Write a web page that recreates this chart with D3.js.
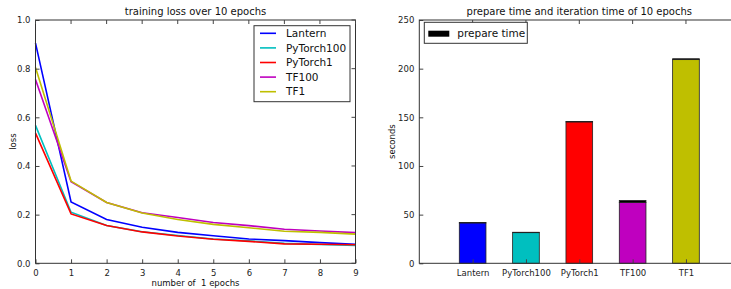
<!DOCTYPE html>
<html>
<head>
<meta charset="utf-8">
<script src="https://cdn.jsdelivr.net/npm/d3@7"></script>
<style>
  body { margin: 0; background: #fff; }
  svg { display: block; font-family: "DejaVu Sans", sans-serif; }
</style>
</head>
<body>
<svg id="chart" width="731" height="289"></svg>
<script>
// loss per epoch
let epochs = [0, 1, 2, 3, 4, 5, 6, 7, 8, 9];
let lossLantern    = [0.905, 0.252, 0.180, 0.148, 0.127, 0.113, 0.100, 0.093, 0.085, 0.078];
let lossPyTorch100 = [0.567, 0.210, 0.155, 0.130, 0.114, 0.100, 0.092, 0.082, 0.077, 0.073];
let lossPyTorch1   = [0.535, 0.203, 0.155, 0.129, 0.112, 0.099, 0.090, 0.080, 0.078, 0.076];
let lossTF100      = [0.755, 0.335, 0.250, 0.208, 0.188, 0.168, 0.155, 0.140, 0.133, 0.126];
let lossTF1        = [0.805, 0.338, 0.250, 0.207, 0.180, 0.160, 0.146, 0.132, 0.127, 0.120];
let lossTicks = [0, 0.2, 0.4, 0.6, 0.8, 1.0];

// bar chart
let frameworks = ["Lantern", "PyTorch100", "PyTorch1", "TF100", "TF1"];
let iterationTime = [41.5, 31.5, 145.3, 62.5, 209.3];
let prepareTime   = [0.4, 0.4, 0.5, 2.0, 0.9];
let secondTicks = [0, 50, 100, 150, 200, 250];

let colors = ["#0000ff", "#00bfbf", "#ff0000", "#bf00bf", "#bfbf00"];

let svg = d3.select("#chart");

//left chart
let lLeft = 35.5, lTop = 20, lW = 320, lH = 243.3;
let left = svg.append("g").attr("transform", `translate(${lLeft},${lTop})`);

let xLoss = d3.scaleLinear().domain([0, 9]).range([0, lW]);
let yLoss = d3.scaleLinear().domain([0, 1]).range([lH, 0]);

let lossSeries = [
    {name: "Lantern", values: lossLantern},
    {name: "PyTorch100", values: lossPyTorch100},
    {name: "PyTorch1", values: lossPyTorch1},
    {name: "TF100", values: lossTF100},
    {name: "TF1", values: lossTF1}
];

let line = d3.line()
    .x((d, i) => xLoss(epochs[i]))
    .y(d => yLoss(d));

left.selectAll("path.loss")
    .data(lossSeries)
    .enter()
    .append("path")
    .attr("class", "loss")
    .attr("d", d => line(d.values))
    .attr("fill", "none")
    .attr("stroke", (d, i) => colors[i])
    .attr("stroke-width", 1.6);

// axes, ticks inward on all sides
function frame(g, w, h, xAx, yAx) {
    g.append("g").attr("transform", `translate(0,${h})`).call(xAx.tickSizeInner(-4).tickSizeOuter(0).tickPadding(7));
    g.append("g").call(yAx.tickSizeInner(-4).tickSizeOuter(0).tickPadding(5));
    g.selectAll(".domain").remove();
    g.selectAll(".tick line").attr("stroke", "#444");
    g.selectAll(".tick text").attr("font-size", "8.5px").attr("fill", "#222").attr("font-family", "DejaVu Sans");
    g.append("rect").attr("width", w).attr("height", h)
        .attr("fill", "none").attr("stroke", "#333").attr("stroke-width", 1);
}

frame(left, lW, lH,
    d3.axisBottom(xLoss).tickValues(epochs).tickFormat(d3.format("d")),
    d3.axisLeft(yLoss).tickValues(lossTicks).tickFormat(d3.format(".1f")));

// top / right tick marks
left.selectAll("line.ttop").data(epochs).enter().append("line")
    .attr("x1", d => xLoss(d)).attr("x2", d => xLoss(d)).attr("y1", 0).attr("y2", 4).attr("stroke", "#444");
left.selectAll("line.tright").data(lossTicks).enter().append("line")
    .attr("x1", lW).attr("x2", lW - 4).attr("y1", d => yLoss(d)).attr("y2", d => yLoss(d)).attr("stroke", "#444");

left.append("text").attr("x", lW / 2).attr("y", -5).attr("text-anchor", "middle")
    .attr("font-size", "10px").attr("fill", "#111").text("training loss over 10 epochs");
left.append("text").attr("x", lW / 2).attr("y", lH + 23).attr("text-anchor", "middle")
    .attr("font-size", "8.5px").attr("fill", "#111").attr("xml:space", "preserve").text("number of  1 epochs");
left.append("text").attr("transform", `translate(-20,${lH / 2}) rotate(-90)`).attr("text-anchor", "middle")
    .attr("font-size", "8.5px").attr("fill", "#111").text("loss");

// legend
let lg = left.append("g").attr("transform", `translate(${254 - lLeft},${25.7 - lTop})`);
lg.append("rect").attr("width", 96).attr("height", 76)
    .attr("fill", "#fff").attr("stroke", "#333").attr("stroke-width", 1);
lossSeries.forEach(function(s, i) {
    let yy = 7.6 + i * 14.6;
    lg.append("line").attr("x1", 6).attr("x2", 22).attr("y1", yy).attr("y2", yy)
        .attr("stroke", colors[i]).attr("stroke-width", 1.6);
    lg.append("text").attr("x", 32).attr("y", yy + 3.8).attr("font-size", "10.5px")
        .attr("fill", "#111").text(s.name);
});

//right chart
let rLeft = 419.3, rTop = 20, rW = 320, rH = 243.3;
let right = svg.append("g").attr("transform", `translate(${rLeft},${rTop})`);

let xBar = d3.scaleLinear().domain([-1, 5]).range([0, rW]);
let yBar = d3.scaleLinear().domain([0, 250]).range([rH, 0]);
let barW = xBar(0.5) - xBar(0);

right.selectAll("rect.iter")
    .data(frameworks)
    .enter()
    .append("rect")
    .attr("class", "iter")
    .attr("x", (d, i) => xBar(i) - barW / 2)
    .attr("y", (d, i) => yBar(iterationTime[i]))
    .attr("width", barW)
    .attr("height", (d, i) => rH - yBar(iterationTime[i]))
    .attr("fill", (d, i) => colors[i])
    .attr("stroke", "#222").attr("stroke-width", 0.8);

right.selectAll("rect.prep")
    .data(frameworks)
    .enter()
    .append("rect")
    .attr("class", "prep")
    .attr("x", (d, i) => xBar(i) - barW / 2)
    .attr("y", (d, i) => yBar(iterationTime[i] + prepareTime[i]))
    .attr("width", barW)
    .attr("height", (d, i) => yBar(iterationTime[i]) - yBar(iterationTime[i] + prepareTime[i]))
    .attr("fill", "#000")
    .attr("stroke", "#222").attr("stroke-width", 0.8);

let barIdx = frameworks.map((d, i) => i);
frame(right, rW, rH,
    d3.axisBottom(xBar).tickValues(barIdx).tickFormat(i => frameworks[i]),
    d3.axisLeft(yBar).tickValues(secondTicks).tickFormat(d3.format("d")));

right.selectAll("line.ttop").data(barIdx).enter().append("line")
    .attr("x1", d => xBar(d)).attr("x2", d => xBar(d)).attr("y1", 0).attr("y2", 4).attr("stroke", "#444");

right.append("text").attr("x", rW / 2).attr("y", -5).attr("text-anchor", "middle")
    .attr("font-size", "10px").attr("fill", "#111").text("prepare time and iteration time of 10 epochs");
right.append("text").attr("transform", `translate(-24,${rH / 2}) rotate(-90)`).attr("text-anchor", "middle")
    .attr("font-size", "8.5px").attr("fill", "#111").text("seconds");

let rg = right.append("g").attr("transform", `translate(${424.3 - rLeft},${22.3 - rTop})`);
rg.append("rect").attr("width", 103).attr("height", 21)
    .attr("fill", "#fff").attr("stroke", "#333").attr("stroke-width", 1);
rg.append("rect").attr("x", 4).attr("y", 8.4).attr("width", 21).attr("height", 6).attr("fill", "#000");
rg.append("text").attr("x", 33).attr("y", 14.5).attr("font-size", "10.5px")
    .attr("fill", "#111").text("prepare time");
</script>
</body>
</html>
